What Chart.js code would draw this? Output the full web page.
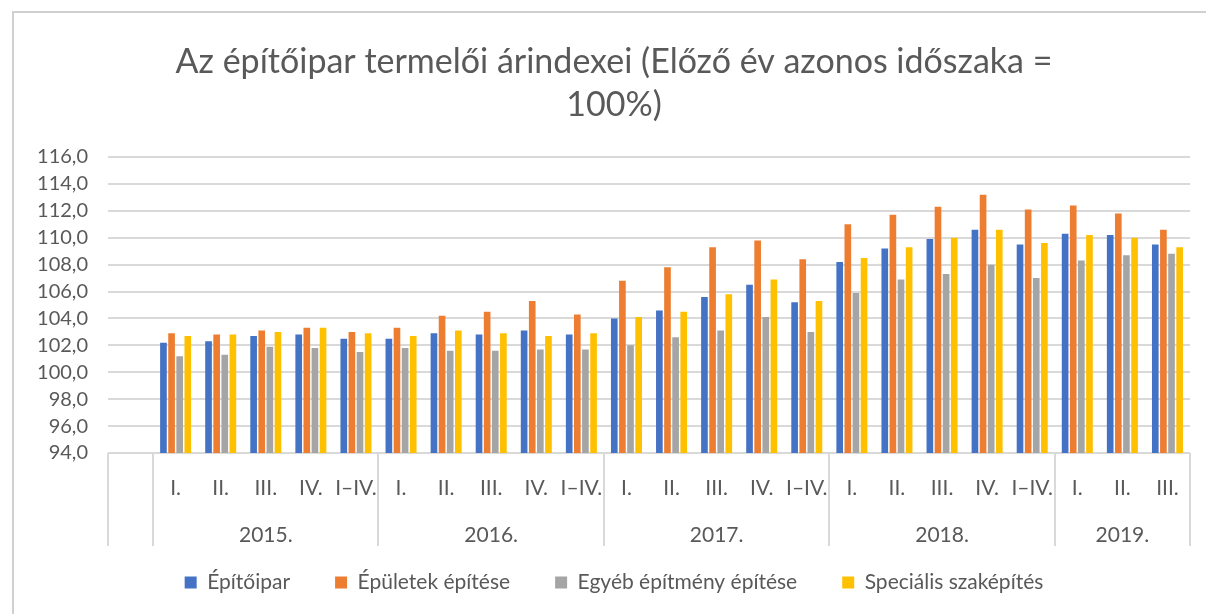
<!DOCTYPE html>
<html>
<head>
<meta charset="utf-8">
<script src="https://cdn.jsdelivr.net/npm/chart.js@4/dist/chart.umd.min.js"></script>
<style>
  html, body { margin: 0; padding: 0; background: #ffffff; }
  #wrap { position: relative; width: 1206px; height: 614px; overflow: hidden; }
  #frame { position: absolute; left: 12px; top: 11px; width: 1300px; height: 700px;
           border-top: 2px solid #d0d0d0; border-left: 2px solid #d0d0d0; }
  canvas { position: absolute; left: 0; top: 0; }
</style>
</head>
<body>
<div id="wrap">
  <div id="frame"></div>
  <canvas id="c" width="1206" height="614"></canvas>
</div>
<script>
// ---- data ----
const categories = ['',
  'I.', 'II.', 'III.', 'IV.', 'I–IV.',
  'I.', 'II.', 'III.', 'IV.', 'I–IV.',
  'I.', 'II.', 'III.', 'IV.', 'I–IV.',
  'I.', 'II.', 'III.', 'IV.', 'I–IV.',
  'I.', 'II.', 'III.'];
const years = ['2015.', '2016.', '2017.', '2018.', '2019.'];
const yearSpans = [5, 5, 5, 5, 3];
const seriesNames = ['Építőipar', 'Épületek építése', 'Egyéb építmény építése', 'Speciális szaképítés'];
const epitoipar = [null,
  102.2, 102.3, 102.7, 102.8, 102.5,
  102.5, 102.9, 102.8, 103.1, 102.8,
  104.0, 104.6, 105.6, 106.5, 105.2,
  108.2, 109.2, 109.9, 110.6, 109.5,
  110.3, 110.2, 109.5];
const epuletek = [null,
  102.9, 102.8, 103.1, 103.3, 103.0,
  103.3, 104.2, 104.5, 105.3, 104.3,
  106.8, 107.8, 109.3, 109.8, 108.4,
  111.0, 111.7, 112.3, 113.2, 112.1,
  112.4, 111.8, 110.6];
const egyeb = [null,
  101.2, 101.3, 101.9, 101.8, 101.5,
  101.8, 101.6, 101.6, 101.7, 101.7,
  102.0, 102.6, 103.1, 104.1, 103.0,
  105.9, 106.9, 107.3, 108.0, 107.0,
  108.3, 108.7, 108.8];
const specialis = [null,
  102.7, 102.8, 103.0, 103.3, 102.9,
  102.7, 103.1, 102.9, 102.7, 102.9,
  104.1, 104.5, 105.8, 106.9, 105.3,
  108.5, 109.3, 110.0, 110.6, 109.6,
  110.2, 110.0, 109.3];
const yMin = 94, yMax = 116, yStep = 2;
const titleLines = ['Az építőipar termelői árindexei (Előző év azonos időszaka =', '100%)'];
// ---- styles ----
const colors = ['#4472C4', '#ED7D31', '#A5A5A5', '#FFC000'];
const textColor = '#595959';
const gridColor = '#d9d9d9';
const FONT = 'Lato, "Open Sans", sans-serif';

const seriesData = [epitoipar, epuletek, egyeb, specialis];

const hierarchyPlugin = {
  id: 'hierarchy',
  afterDraw(chart) {
    const xs = chart.scales.x;
    const ctx = chart.ctx;
    const area = chart.chartArea;
    const half = (xs.getPixelForValue(1) - xs.getPixelForValue(0)) / 2;
    const edge = i => (i >= categories.length) ? xs.getPixelForValue(categories.length - 1) + half
                                               : xs.getPixelForValue(i) - half;
    const bounds = [0, 1];
    let idx = 1;
    yearSpans.forEach(s => { idx += s; bounds.push(idx); });
    ctx.save();
    ctx.strokeStyle = gridColor;
    ctx.lineWidth = 2;
    const y0 = area.bottom, y1 = area.bottom + 93;
    bounds.forEach(b => {
      const x = Math.round(edge(b));
      ctx.beginPath();
      ctx.moveTo(x, y0);
      ctx.lineTo(x, y1);
      ctx.stroke();
    });
    ctx.fillStyle = textColor;
    ctx.font = '21px ' + FONT;
    ctx.textAlign = 'center';
    ctx.textBaseline = 'middle';
    let start = 1;
    years.forEach((yr, k) => {
      const end = start + yearSpans[k];
      const cx = (edge(start) + edge(end)) / 2;
      ctx.fillText(yr, cx, area.bottom + 82);
      start = end;
    });
    ctx.restore();
  }
};

new Chart(document.getElementById('c'), {
  type: 'bar',
  data: {
    labels: categories,
    datasets: seriesData.map((d, i) => ({
      label: seriesNames[i],
      data: d,
      backgroundColor: colors[i],
      borderWidth: 0,
      barPercentage: 0.82,
      categoryPercentage: 0.72
    }))
  },
  options: {
    responsive: false,
    animation: false,
    devicePixelRatio: 1,
    layout: { padding: { left: 38, right: 16, top: 0, bottom: 11 } },
    plugins: {
      title: {
        display: true,
        text: titleLines,
        color: textColor,
        font: { family: FONT, size: 34, weight: 'normal', lineHeight: 1.25 },
        padding: { top: 41, bottom: 31 }
      },
      legend: {
        position: 'bottom',
        labels: {
          color: textColor,
          font: { family: FONT, size: 21 },
          boxWidth: 12,
          boxHeight: 12,
          padding: 45
        }
      },
      tooltip: { enabled: false }
    },
    scales: {
      x: {
        grid: { display: false, drawTicks: false },
        border: { display: false },
        ticks: {
          color: textColor,
          font: { family: FONT, size: 21 },
          padding: 23,
          maxRotation: 0,
          autoSkip: false
        },
        afterFit(scale) { scale.height = 74; }
      },
      y: {
        min: yMin,
        max: yMax,
        grid: { color: gridColor, lineWidth: 2, drawTicks: false },
        border: { display: false },
        ticks: {
          stepSize: yStep,
          autoSkip: false,
          color: textColor,
          font: { family: FONT, size: 20 },
          padding: 20,
          callback: v => v.toFixed(1).replace('.', ',')
        },
        afterFit(scale) { scale.width = 70; }
      }
    }
  },
  plugins: [hierarchyPlugin]
});
</script>
</body>
</html>
